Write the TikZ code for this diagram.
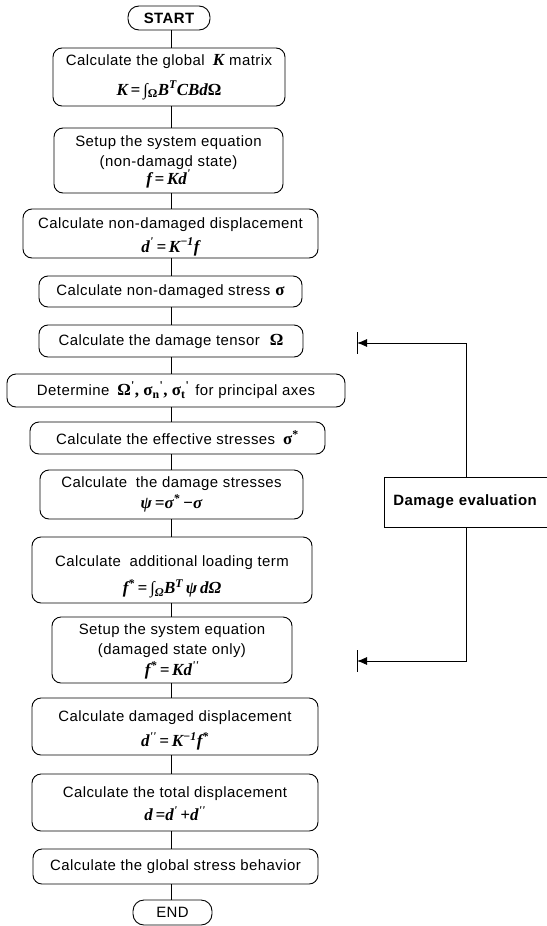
\documentclass[tikz,border=0pt]{standalone}
\usepackage{fontspec}
\setmainfont{Liberation Sans}[LetterSpace=3]
\newfontfamily\tms{Liberation Serif}
\newfontfamily\hbold{Liberation Sans}[LetterSpace=3]
\usetikzlibrary{arrows.meta}
\newcommand\mth[1]{{\tms\fontsize{17}{19}\selectfont\bfseries\itshape #1}}
\newcommand\gr[1]{{\tms\fontsize{17}{19}\selectfont\bfseries #1}}
\newcommand\sps[1]{\textsuperscript{#1}}
\newcommand\lift[1]{\rule{0pt}{#1}}
\tikzset{
  fbox/.style={draw, rounded corners=9bp, line width=0.9bp, align=center, inner sep=0pt,
    font=\fontsize{15}{18}\selectfont},
  pill/.style={draw, rounded corners=11bp, line width=0.9bp, inner sep=0pt,
    font=\fontsize{15}{18}\selectfont},
  conn/.style={line width=0.9bp},
  dbox/.style={draw, line width=0.9bp, align=left, inner xsep=9bp, text width=152bp,
    minimum height=50bp, font=\hbold\bfseries\fontsize{15}{18}\selectfont},
  loopline/.style={line width=0.9bp},
  looparrow/.style={loopline, -{Latex[length=10bp,width=8bp]}},
}
\begin{document}
\begin{tikzpicture}[x=1bp,y=-1bp]
\useasboundingbox (0,0) rectangle (547,926);
\coordinate (spine) at (171,0);
\coordinate (loop) at (466,0);

\node[pill, minimum width=82bp, minimum height=24bp, font=\bfseries\fontsize{15}{18}\selectfont] (start) at (169,18) {START};

\node[fbox, minimum width=232bp, minimum height=58bp] (b1) at (169,77)
  {Calculate the global\hspace{8bp}\mth{K}\hspace{5bp}matrix\\[12bp]
   \mth{K\,=\,∫\textsubscript{\upshape Ω}B\sps{T}CBd{\upshape Ω}}};

\node[fbox, minimum width=229bp, minimum height=65bp] (b2) at (168.5,160.5)
  {\lift{13bp}Setup the system equation\\[2bp](non-damagd state)\\[0bp]
   \mth{f\,=\,Kd\sps{'}}};

\node[fbox, minimum width=295bp, minimum height=49bp] (b3) at (170.5,233.5)
  {\lift{17bp}Calculate non-damaged displacement\\[6bp]
   \mth{d\sps{'}\,=\,K\sps{−1}f}};

\node[fbox, minimum width=263bp, minimum height=31bp] (b4) at (170.5,291.5)
  {Calculate non-damaged stress\hspace{5bp}\gr{σ}};

\node[fbox, minimum width=264bp, minimum height=32bp] (b5) at (171,341)
  {Calculate the damage tensor\hspace{10bp}\gr{Ω}};

\node[fbox, minimum width=338bp, minimum height=33bp] (b6) at (176,390.5)
  {Determine\hspace{8bp}\gr{Ω\sps{'}, σ\textsubscript{n}\sps{'}, σ\textsubscript{t}\sps{'}}\hspace{6bp}for principal axes};

\node[fbox, minimum width=295bp, minimum height=32bp] (b7) at (177.5,438)
  {Calculate the effective stresses\hspace{8bp}\gr{σ\sps{*}}};

\node[fbox, minimum width=263bp, minimum height=49bp] (b8) at (171.5,494.5)
  {Calculate\hspace{4bp} the damage stresses\\[3bp]
   \mth{ψ\,=σ\sps{*}\,−σ}};

\node[fbox, minimum width=280bp, minimum height=66bp] (b9) at (172,570)
  {\lift{25bp}Calculate\hspace{4bp} additional loading term\\[9bp]
   \mth{f\sps{*}\,=\,∫\textsubscript{Ω}B\sps{T}\,ψ\,dΩ}};

\node[fbox, minimum width=240bp, minimum height=66bp] (b10) at (172,650)
  {\lift{14bp}Setup the system equation\\[2bp](damaged state only)\\[3bp]
   \mth{f\sps{*}\,=\,Kd\sps{''}}};

\node[fbox, minimum width=286bp, minimum height=57bp] (b11) at (175,726.5)
  {\lift{19bp}Calculate damaged displacement\\[7bp]
   \mth{d\sps{''}\,=\,K\sps{−1}f\sps{*}}};

\node[fbox, minimum width=286bp, minimum height=57bp] (b12) at (175,802.5)
  {\lift{14bp}Calculate the total displacement\\[5bp]
   \mth{d\,=d\sps{'}\,+d\sps{''}}};

\node[fbox, minimum width=285bp, minimum height=35bp] (b13) at (175.5,866.5)
  {Calculate the global stress behavior};

\node[pill, minimum width=79bp, minimum height=25bp] (end) at (172.5,912.5) {END};

\foreach \a/\b in {start/b1,b1/b2,b2/b3,b3/b4,b4/b5,b5/b6,b6/b7,b7/b8,b8/b9,b9/b10,b10/b11,b11/b12,b12/b13,b13/end}
  \draw[conn] (\a.south -| spine) -- (\b.north -| spine);

% damage evaluation loop
\node[dbox, anchor=west] (de) at (384,502) {Damage evaluation};
\coordinate (t1) at (357,343);
\coordinate (t2) at (357,661);
\draw[looparrow] (de.north -| loop) |- (t1);
\draw[looparrow] (de.south -| loop) |- (t2);
\draw[loopline] (t1) ++(0,-11) -- ++(0,22);
\draw[loopline] (t2) ++(0,-11) -- ++(0,22);
\end{tikzpicture}
\end{document}
